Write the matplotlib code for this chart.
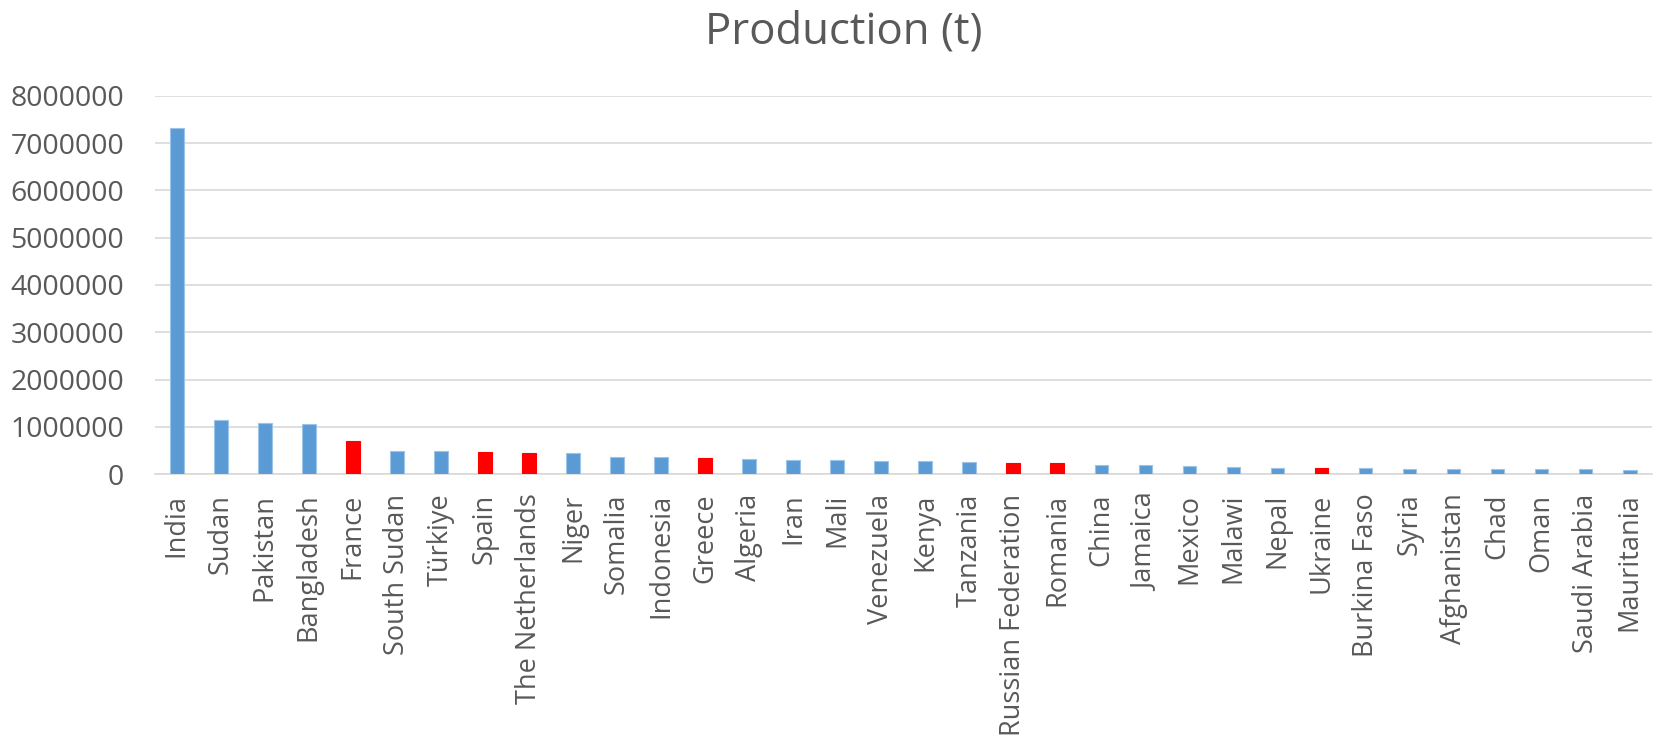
import matplotlib
matplotlib.use('Agg')
from matplotlib import pyplot as plt

plt.rcParams['font.family'] = ['Open Sans', 'DejaVu Sans']

countries = ['India', 'Sudan', 'Pakistan', 'Bangladesh', 'France', 'South Sudan',
             'Türkiye', 'Spain', 'The Netherlands', 'Niger', 'Somalia', 'Indonesia',
             'Greece', 'Algeria', 'Iran', 'Mali', 'Venezuela', 'Kenya', 'Tanzania',
             'Russian Federation', 'Romania', 'China', 'Jamaica', 'Mexico', 'Malawi',
             'Nepal', 'Ukraine', 'Burkina Faso', 'Syria', 'Afghanistan', 'Chad',
             'Oman', 'Saudi Arabia', 'Mauritania']
production = [7320000, 1135000, 1071000, 1050000, 695000, 489000,
              482000, 468000, 447000, 447000, 369000, 355000,
              333000, 312000, 305000, 291000, 270000, 270000, 262000,
              227000, 227000, 199000, 184000, 163000, 142000,
              135000, 121000, 121000, 113000, 106000, 106000,
              106000, 99000, 92000]
highlight = ['France', 'Spain', 'The Netherlands', 'Greece',
             'Russian Federation', 'Romania', 'Ukraine']

blue = '#5B9BD5'
red = '#FF0000'
grey_text = '#595959'
colors = [red if c in highlight else blue for c in countries]
edges = ['#FF0000' if c in highlight else '#9DC3E6' for c in countries]

fig = plt.figure(figsize=(16.55, 7.42), dpi=100)
ax = fig.add_axes([0.0935, 0.361, 0.9045, 0.510])

x = range(len(countries))
ax.bar(x, production, width=0.31, color=colors, edgecolor=edges, linewidth=0.8, zorder=3)

ax.set_xlim(-0.5, len(countries) - 0.5)
ax.set_ylim(0, 8000000)
ax.set_yticks(range(0, 8000001, 1000000))
ax.set_yticklabels([str(v) for v in range(0, 8000001, 1000000)])
ax.set_xticks(list(x))
ax.set_xticklabels(countries, rotation=90)

ax.grid(axis='y', color='#D9D9D9', linewidth=1.2, zorder=0)
for s in ['top', 'right', 'left']:
    ax.spines[s].set_visible(False)
ax.spines['bottom'].set_color('#D9D9D9')
ax.spines['bottom'].set_linewidth(1.2)

ax.tick_params(axis='y', length=0, pad=22, labelsize=20.5, labelcolor=grey_text)
ax.tick_params(axis='x', length=0, pad=14, labelsize=19.5, labelcolor=grey_text)

fig.text(0.51, 0.957, 'Production (t)', ha='center', va='center',
         fontsize=31.5, color=grey_text)

fig.savefig('out.png', dpi=100)
